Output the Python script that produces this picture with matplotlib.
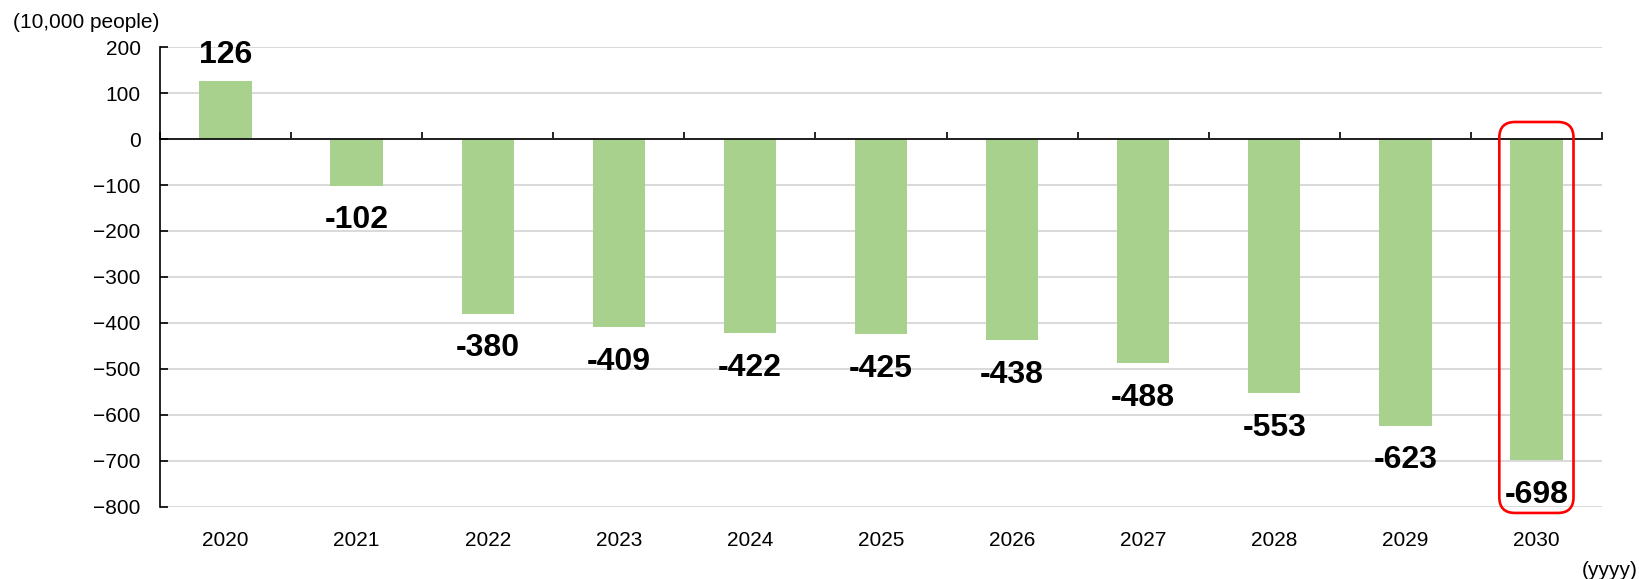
import matplotlib.pyplot as plt
import numpy as np
from matplotlib.patches import FancyBboxPatch

plt.rcParams['font.family'] = ['Liberation Sans', 'DejaVu Sans']

years = ['2020', '2021', '2022', '2023', '2024', '2025', '2026', '2027', '2028', '2029', '2030']
values = [126, -102, -380, -409, -422, -425, -438, -488, -553, -623, -698]
yticks = np.arange(-800, 201, 100)
highlight = '2030'

bar_color = '#a9d18e'
grid_color = '#d9d9d9'

fig = plt.figure(figsize=(16.4, 5.79), dpi=100)
ax = fig.add_axes([0.0976, 0.1244, 0.8792, 0.7944])

x = np.arange(len(years))
ax.bar(x, values, width=0.4, color=bar_color, zorder=2)

ax.set_xlim(-0.5, len(years) - 0.5)
ax.set_ylim(yticks[0], yticks[-1])
ax.set_yticks(yticks)
ax.set_yticklabels([f'{t:d}'.replace('-', '\u2212') for t in yticks])
ax.tick_params(axis='y', direction='in', length=6, width=1.2, pad=14, labelsize=15)
ax.grid(axis='y', color=grid_color, linewidth=1.4, zorder=0)

for side in ['top', 'right']:
    ax.spines[side].set_visible(False)
ax.spines['left'].set_linewidth(1.2)

# the category axis sits on the zero line, ticks between categories
ax.spines['bottom'].set_position(('data', 0))
ax.spines['bottom'].set_linewidth(1.2)
ax.spines['bottom'].set_zorder(3)
ax.set_xticks(np.arange(len(years) + 1) - 0.5)
ax.tick_params(axis='x', direction='in', length=5, width=1.2, labelbottom=False)

# year labels along the bottom edge
sec = ax.secondary_xaxis('bottom')
sec.set_xticks(x, years)
sec.tick_params(length=0, pad=17, labelsize=15)
sec.spines['bottom'].set_visible(False)

for i, v in enumerate(values):
    if v >= 0:
        ax.annotate(str(v), (i, v), xytext=(0, 8), textcoords='offset points',
                    ha='center', va='bottom', fontsize=23, fontweight='bold')
    else:
        ax.annotate(str(v), (i, v), xytext=(0, -14), textcoords='offset points',
                    ha='center', va='top', fontsize=23, fontweight='bold')

# rounded red frame around the highlighted year
hi = years.index(highlight)
bbox = ax.get_position()
px_x = bbox.width * fig.get_figwidth() * fig.dpi / (len(years))
px_y = bbox.height * fig.get_figheight() * fig.dpi / (yticks[-1] - yticks[0])
half_w = 0.283
top = 37
bottom = values[hi] - 115
frame = FancyBboxPatch((hi - half_w, bottom), 2 * half_w, top - bottom,
                       boxstyle='round,pad=0,rounding_size=0.12',
                       mutation_aspect=px_x / px_y,
                       facecolor='none', edgecolor='#ff0000', linewidth=1.9,
                       clip_on=False, zorder=4)
ax.add_patch(frame)

fig.text(13 / 1640, 1 - 23 / 579, '(10,000 people)', fontsize=15, ha='left', va='center')
fig.text(1582 / 1640, 1 - 570 / 579, '(yyyy)', fontsize=15, ha='left', va='center')

plt.savefig('out.png', dpi=100)
